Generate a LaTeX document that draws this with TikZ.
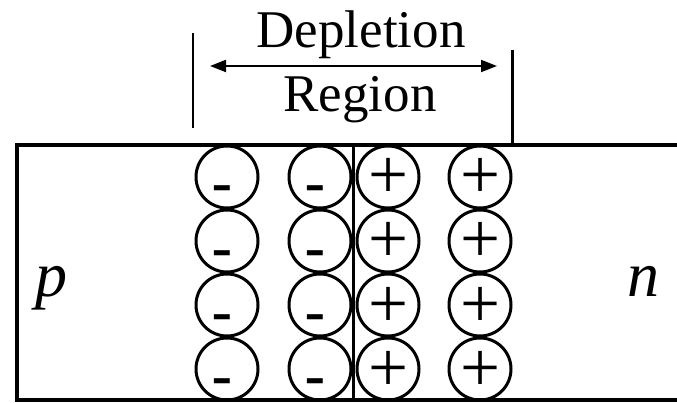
\documentclass[tikz,border=0pt]{standalone}
\usepackage{fontspec}
\setmainfont{Liberation Serif}
\newfontfamily\signsans{Liberation Sans}
\usetikzlibrary{arrows.meta}
\begin{document}
\begin{tikzpicture}[x=1pt,y=-1pt,
  ion/.style={circle,draw,line width=3pt,minimum size=62pt,inner sep=0pt},
  signtxt/.style={inner sep=0pt,anchor=base},
  minustxt/.style={signtxt,font=\signsans\fontsize{65}{65}\selectfont},
  plustxt/.style={signtxt,font=\fontsize{71}{71}\selectfont},
  labeltxt/.style={inner sep=0pt,anchor=base,font=\fontsize{53}{53}\selectfont},
  typetxt/.style={inner sep=0pt,anchor=base,font=\fontsize{64}{64}\selectfont\itshape},
  body/.style={line width=3.5pt},
  marker/.style={line width=2.5pt},
  dimarrow/.style={line width=2pt,{Triangle[length=16pt,width=12pt]}-{Triangle[length=16pt,width=12pt]}}]
\useasboundingbox (0,0) rectangle (677,403);
% semiconductor body (open on the right)
\coordinate (tr) at (677,145);
\coordinate (tl) at (17,145);
\coordinate (bl) at (17,400);
\coordinate (br) at (677,400);
\draw[body] (tr) -- (tl) -- (bl) -- (br);
% junction
\coordinate (jt) at (353,145);
\coordinate (jb) at (353,400);
\draw[line width=3pt] (jt) -- (jb);
% ions
\foreach \r/\y in {1/177,2/241,3/305,4/369}{
  \node[ion] (m1\r) at (227,\y) {};
  \node[ion] (m2\r) at (320,\y) {};
  \node[ion] (p1\r) at (388,\y) {};
  \node[ion] (p2\r) at (480,\y) {};
  \node[minustxt] (sm1\r) at ([xshift=-4.5pt,yshift=-29pt]m1\r.center) {-};
  \node[minustxt] (sm2\r) at ([xshift=-4.5pt,yshift=-29pt]m2\r.center) {-};
  \node[plustxt] (sp1\r) at ([xshift=1pt,yshift=-22pt]p1\r.center) {+};
  \node[plustxt] (sp2\r) at ([xshift=1pt,yshift=-22pt]p2\r.center) {+};
}
% depletion region markers
\coordinate (lt) at (193,33);
\coordinate (lb) at (193,128);
\coordinate (rt) at (512.5,50);
\coordinate (rb) at (512.5,145);
\draw[marker] (lt) -- (lb);
\draw[marker] (rt) -- (rb);
\coordinate (al) at (210,66);
\coordinate (ar) at (497,66);
\draw[dimarrow] (al) -- (ar);
\node[labeltxt] (dep) at (361,48) {Depletion};
\node[labeltxt] (reg) at (360,112) {Region};
% type labels
\node[typetxt] (p) at (51.5,297) {p};
\node[typetxt] (n) at (643.5,297) {n};
\end{tikzpicture}
\end{document}
